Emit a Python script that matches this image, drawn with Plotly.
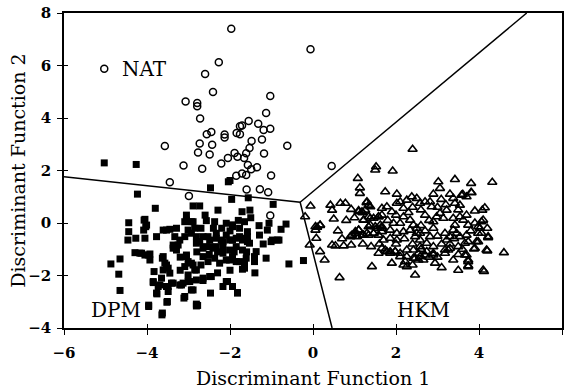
import plotly.graph_objects as go

# ---------------- data ----------------
nat_x = [-1.97, -0.06, -2.27, -2.60, -2.41, -3.07, -2.79, -2.79, -1.03, -2.72, -1.13, -1.55,
         -1.76, -1.71, -1.32, -1.19, -1.03, -2.45, -2.56, -2.13, -2.13, -1.84, -1.76, -1.23,
         -1.48, -2.73, -2.43, -0.62, -3.57, -1.53, -2.77, -2.49, -1.89, -1.61, -1.18, -2.05,
         -1.82, -1.66, -2.21, -1.57, -1.35, -1.49, -3.12, -2.67, 0.45, -1.85, -1.71, -1.61,
         -1.01, -3.45, -1.60, -1.28, -1.08, -2.99, -1.03]
nat_y = [7.40, 6.62, 6.12, 5.68, 4.99, 4.63, 4.57, 4.45, 4.84, 3.98, 4.19, 3.89,
         3.69, 3.71, 3.78, 3.54, 3.59, 3.47, 3.38, 3.37, 3.26, 3.43, 3.38, 3.18,
         3.12, 3.03, 2.98, 2.94, 2.93, 2.86, 2.69, 2.61, 2.67, 2.66, 2.65, 2.48,
         2.52, 2.48, 2.27, 2.21, 2.12, 2.05, 2.19, 2.07, 2.17, 1.80, 1.89, 1.83,
         1.81, 1.55, 1.28, 1.29, 1.17, 1.03, 0.29]

dpm_x = [-5.03, -4.26, -2.47, -2.04, -2.00, -4.23, -1.96, -1.56, -0.96, -3.80, -2.89, -2.73,
         -2.29, -1.71, -1.52, -3.05, -3.05, -4.44, -4.07, -4.03, -2.57, -2.37, -2.09, -1.94,
         -1.77, -1.65, -1.06, -1.10, -0.65, -0.77, -2.89, -2.85, -3.61, -3.45, -3.29, -4.46,
         -4.27, -4.05, -3.77, -3.33, -3.21, -3.09, -2.93, -2.81, -2.73, -2.53, -2.33, -2.21,
         -2.09, -1.94, -1.77, -1.61, -1.53, -1.29, -0.98, -0.82, -3.37, -3.29, -2.57, -2.41,
         -2.17, -2.01, -1.85, -1.70, -4.29, -4.13, -3.97, -3.93, -4.65, -4.87, -3.61, -3.57,
         -3.49, -3.05, -3.01, -2.89, -2.81, -2.65, -2.53, -2.37, -2.25, -2.09, -1.94, -1.77,
         -1.61, -1.41, -1.41, -1.65, -1.13, -0.58, -0.23, -4.68, -3.83, -4.65, -3.85, -3.69,
         -3.53, -3.41, -3.21, -3.76, -3.49, -3.13, -3.01, -2.81, -2.65, -2.45, -2.89, -3.11,
         -2.47, -2.17, -2.06, -1.94, -1.82, -3.96, -3.52, -2.78, -3.64,
         -1.94, -1.58, -1.58, -1.01, -0.86, -1.37, -2.65, -2.81, -2.65, -2.49, -2.33, -2.17,
         -2.01, -1.85, -1.70, -1.58, -2.49, -2.33, -2.17, -2.01, -1.85, -1.65, -1.70, -2.65,
         -2.49, -2.93, -2.09, -1.82, -2.81,
         -4.05, -4.01, -4.08, -4.44, -3.53, -3.09, -2.93, -3.01, -3.25, -3.37, -4.17, -4.05,
         -3.93, -3.63, -3.53, -3.61, -3.45, -3.65, -3.05, -2.93, -2.85, -3.09, -3.01, -3.85,
         -3.73, -3.77, -3.49, -3.37, -3.17, -3.09, -2.97, -3.51, -3.63, -3.96, -2.81,
         -2.60, -2.40, -2.20, -2.00, -1.80, -1.50, -1.30, -1.20, -2.70, -2.50, -2.30, -1.90,
         -1.60, -2.80, -3.20, -3.20, -2.70, -2.00, -1.40, -2.30]
dpm_y = [2.29, 2.23, 1.34, 1.57, 1.62, 1.10, 0.90, 0.96, 0.71, 0.56, 0.65, 0.65,
         0.49, 0.43, 0.49, 0.30, 0.11, 0.01, 0.11, -0.14, 0.09, 0.05, -0.01, -0.14,
         -0.20, 0.05, -0.01, -0.27, -0.04, -0.24, 0.05, -0.20, -0.27, -0.24, -0.20, -0.65,
         -0.58, -0.58, -0.52, -0.52, -0.65, -0.52, -0.39, -0.52, -0.71, -0.52, -0.39, -0.65,
         -0.46, -0.65, -0.52, -0.58, -0.77, -0.46, -0.65, -0.65, -0.84, -1.03, -0.90, -0.96,
         -0.90, -1.03, -0.90, -1.03, -1.13, -1.15, -1.22, -1.41, -1.37, -1.56, -1.28, -1.53,
         -1.72, -1.22, -1.47, -1.60, -1.79, -1.28, -1.47, -1.34, -1.53, -1.41, -1.28, -1.47,
         -1.34, -1.28, -1.47, -1.72, -1.34, -1.56, -1.43, -1.95, -1.85, -2.57, -2.27, -2.36,
         -2.42, -2.29, -2.36, -2.70, -2.61, -2.29, -2.23, -2.17, -2.19, -2.04, -2.55, -2.86,
         -2.67, -2.42, -2.23, -2.42, -2.67, -3.18, -3.02, -3.14, -3.50,
         -0.07, -0.33, -0.52, -0.71, -0.65, -1.09, -0.52, -0.77, -0.96, -0.65, -0.58, -0.71,
         -0.65, -0.58, -0.65, -0.71, -0.90, -0.90, -1.15, -1.41, -1.47, -1.53, -1.76, -2.10,
         -2.04, -2.55, -2.23, -2.65, -3.16,
         0.14, -0.08, -0.27, -0.33, -0.27, 0.05, 0.05, -0.27, -0.84, -0.96, -1.15, -1.22,
         -1.18, -1.34, -1.60, -1.79, -1.91, -2.10, -1.28, -1.53, -1.79, -1.66, -1.98, -2.23,
         -2.42, -2.67, -2.42, -2.29, -2.36, -2.80, -2.23, -2.99, -3.43, -3.13, -3.09,
         0.30, -0.20, -0.20, -0.30, 0.10, 0.20, -0.10, -0.80, -0.20, -1.20, -1.10, -1.10,
         -1.10, -1.10, -1.30, -1.80, -1.60, -1.80, -1.90, -1.90]

hkm_x = [2.40, 1.52, 1.50, 1.92, 1.08, 1.13, 1.13, 1.74, 2.02, 3.02, 3.06, 3.42, 3.81, 4.32,
         3.81, 3.58, 3.70, -0.06, -0.19, 0.42, 0.46, 0.50, 0.66, 0.78, 0.92, 1.10, 1.20, 1.30,
         1.38, 0.06, 0.17, 0.08, -0.08, 0.17, 0.28, 0.46, 0.54, 0.74, 0.92, 0.90, 0.94, 1.10,
         1.02, 1.20, 1.34, 1.46, 1.34, 1.54, 1.66, 1.22, 1.38, 1.58, 1.42, 0.64,
         1.58, 1.66, 1.78, 1.86, 1.90, 1.98, 2.10, 2.22, 2.26, 2.46, 2.46, 2.58, 2.70, 2.90,
         2.94, 3.18, 3.38, 3.66, 3.74, 3.74, 4.12, 4.20, 4.60, 3.90, 3.98, 4.22, 4.06, 3.98,
         4.10, 4.14, 3.90, 4.08,
         3.61, 3.82, 3.09, 3.38, 3.42, 2.70, 2.82, 2.86, 3.54, 4.06, 4.02, 3.98, 4.22, 3.94,
         3.88, 4.18, 3.74, 3.62, 3.54, 3.38, 3.42, 3.22, 3.06, 3.14, 2.98, 2.90, 3.70, 3.66,
         3.74, 3.54, 3.46, 3.38, 3.30, 3.18, 3.22, 2.90, 2.82, 2.74, 2.58, 2.50, 3.18, 3.26,
         3.30, 2.90, 2.74, 2.54, 2.66, 3.70, 3.74, 3.74, 4.10,
         1.10, 1.18, 1.26, 1.29, 1.34, 0.10, 0.06, 0.17, 1.02, 1.10, 1.06, 1.22, 1.30, 1.46,
         1.58, 1.66, 1.38, 1.50, 1.62, 1.66, 1.22, 1.34, 1.46, 1.58, 1.66, 1.66, 1.78, 1.90,
         2.02, 2.10, 2.18, 2.26, 2.38, 2.50, 2.58, 2.18, 2.34, 2.42, 2.10, 1.94, 1.86, 2.02,
         2.18, 2.34, 2.50, 2.58, 2.46, 1.70, 1.86, 2.02, 1.74, 1.86, 1.98, 2.10, 2.26, 2.42,
         2.54, 2.26, 2.42, 2.58, 2.18,
         2.60, 2.70, 2.80, 2.60, 2.70, 3.00, 3.10, 2.90, 3.30, 3.50, 3.60, 3.40, 3.00, 3.20,
         2.40, 2.30, 2.00, 1.80, 2.20, 2.40, 2.60, 2.80, 3.00, 3.50, 3.80, 3.70, 3.90, 4.20,
         2.90, 3.30, 3.50, 2.00, 1.60, 1.40, 1.20, 2.40, 3.10, 3.50, 1.00, 0.80, 0.60, 0.70]
hkm_y = [2.81, 2.14, 2.02, 1.98, 1.70, 1.34, 1.13, 1.19, 1.10, 1.57, 1.32, 1.66, 1.51, 1.55,
         1.17, 1.06, 1.00, 0.65, 0.24, 0.68, 0.49, 0.15, 0.75, 0.75, 0.52, 0.47, 0.39, 0.81,
         0.62, -0.14, -0.08, -0.58, -0.84, -1.09, -1.41, -0.84, -0.87, -0.87, -0.84, -0.52, -0.46, -0.27,
         -0.39, -0.46, -0.46, -0.39, -0.14, -0.20, -0.14, 0.11, 0.18, 0.24, -1.66, -2.08,
         -1.15, -0.96, -1.09, -1.15, -1.53, -1.09, -1.28, -1.47, -1.66, -1.98, -1.34, -1.28, -1.22, -1.22,
         -1.53, -1.15, -1.41, -1.22, -1.47, -1.66, -1.85, -1.06, -1.13, -0.96, -0.71, -0.52, -0.39, -0.14,
         0.11, 0.58, 0.46, 0.49,
         1.09, 1.15, 0.90, 0.94, 0.75, 0.81, 0.81, 0.62, 0.68, 0.05, -0.20, -0.39, -0.56, -0.71,
         -0.99, -1.03, -0.08, 0.11, 0.24, 0.18, -0.08, 0.49, 0.37, 0.18, 0.24, 0.05, -0.46, -0.77,
         -0.71, -0.52, -0.39, -0.27, -0.52, -0.39, -0.65, -0.20, -0.52, -0.77, -0.65, -0.39, -1.03, -1.03,
         -0.96, -1.15, -1.09, -1.15, -1.41, -1.22, -1.41, -1.63, -1.79,
         0.43, 0.43, 0.49, 0.77, 0.68, -0.16, -0.27, -0.09, -0.33, -0.27, -0.52, -0.46, -0.39, -0.39,
         -0.46, -0.33, -0.08, -0.14, -0.08, -0.20, 0.11, 0.24, 0.18, 0.24, 0.30, 0.56, 0.62, 0.43,
         0.75, 0.81, 0.56, 0.87, 1.00, 0.94, 0.75, 0.24, 0.11, -0.08, -0.01, -0.01, -0.27, -0.39,
         -0.33, -0.27, -0.20, -0.39, -0.52, -0.65, -0.58, -0.65, -1.03, -1.09, -1.09, -1.15, -1.28, -1.34,
         -1.41, -1.03, -1.03, -0.90, -1.60,
         0.50, 0.30, 0.10, -0.10, -0.30, -0.50, -0.80, -0.90, -0.80, -0.90, -1.00, -0.60, 0.60, 0.70,
         0.60, 0.40, 0.30, 0.10, -0.60, -0.80, -1.00, -1.30, -1.30, -1.20, -0.30, 0.30, 0.00, -0.20,
         1.10, 1.10, 0.50, -0.80, -0.80, -0.90, -0.80, -1.60, -1.70, -1.80, 0.20, 0.10, -0.30, -0.60]

# decision boundaries (piecewise lines)
bound_x = [-6.0, -0.31, 0.46, None, -0.31, 5.15]
bound_y = [1.76, 0.79, -4.0, None, 0.79, 8.0]

# group labels
label_text = ["NAT", "DPM", "HKM"]
label_x = [-4.05, -4.75, 2.66]
label_y = [5.88, -3.31, -3.31]
key_x = [-5.03]
key_y = [5.88]

x_ticks = [-6, -4, -2, 0, 2, 4, 6]
y_ticks = [-4, -2, 0, 2, 4, 6, 8]
x_range = [-6, 6]
y_range = [-4, 8]

FONT = "DejaVu Serif"

fig = go.Figure()
fig.add_trace(go.Scatter(x=bound_x, y=bound_y, mode="lines",
                         line=dict(color="black", width=1.5), hoverinfo="skip"))
fig.add_trace(go.Scatter(x=dpm_x, y=dpm_y, mode="markers",
                         marker=dict(symbol="square", size=7, color="black",
                                     line=dict(width=0))))
fig.add_trace(go.Scatter(x=hkm_x, y=hkm_y, mode="markers",
                         marker=dict(symbol="triangle-up-open", size=8, color="black",
                                     line=dict(width=1.6, color="black"))))
fig.add_trace(go.Scatter(x=nat_x + key_x, y=nat_y + key_y, mode="markers",
                         marker=dict(symbol="circle-open", size=7, color="black",
                                     line=dict(width=1.5, color="black"))))
# dummy trace for the inner half of the crossing ticks
fig.add_trace(go.Scatter(x=[None], y=[None], xaxis="x2", yaxis="y2", mode="markers",
                         showlegend=False))

for t, xv, yv in zip(label_text, label_x, label_y):
    fig.add_annotation(x=xv, y=yv, xref="x", yref="y", text=t, showarrow=False,
                       font=dict(family=FONT, size=20, color="black"),
                       xanchor="center", yanchor="middle")

fig.add_annotation(x=0.5, y=-0.158, xref="paper", yref="paper",
                   text="Discriminant Function 1", showarrow=False,
                   font=dict(family=FONT, size=19, color="black"),
                   xanchor="center", yanchor="middle")
fig.add_annotation(x=-0.094, y=0.5, xref="paper", yref="paper",
                   text="Discriminant Function 2", showarrow=False, textangle=-90,
                   font=dict(family=FONT, size=19, color="black"),
                   xanchor="center", yanchor="middle")

axis_common = dict(showgrid=False, zeroline=False, showline=True, linecolor="black",
                   linewidth=1.5, mirror=True, ticks="outside", ticklen=5,
                   tickwidth=1.2, tickcolor="black",
                   tickfont=dict(family=FONT, size=15, color="black", weight="bold"))
fig.update_layout(
    width=567, height=392,
    margin=dict(l=64, r=3, t=13, b=64),
    paper_bgcolor="white", plot_bgcolor="white",
    showlegend=False,
    xaxis=dict(range=x_range, tickvals=x_ticks, ticklabelstandoff=5, **axis_common),
    yaxis=dict(range=y_range, tickvals=y_ticks, ticklabelstandoff=3, **axis_common),
    xaxis2=dict(range=x_range, tickvals=x_ticks, overlaying="x", anchor="y2", side="bottom",
                ticks="inside", ticklen=4, tickwidth=1.2, tickcolor="black",
                showticklabels=False, showgrid=False, zeroline=False, showline=False),
    yaxis2=dict(range=y_range, tickvals=y_ticks, overlaying="y", anchor="x2", side="left",
                ticks="inside", ticklen=4, tickwidth=1.2, tickcolor="black",
                showticklabels=False, showgrid=False, zeroline=False, showline=False),
)

fig.write_html("out.html")
